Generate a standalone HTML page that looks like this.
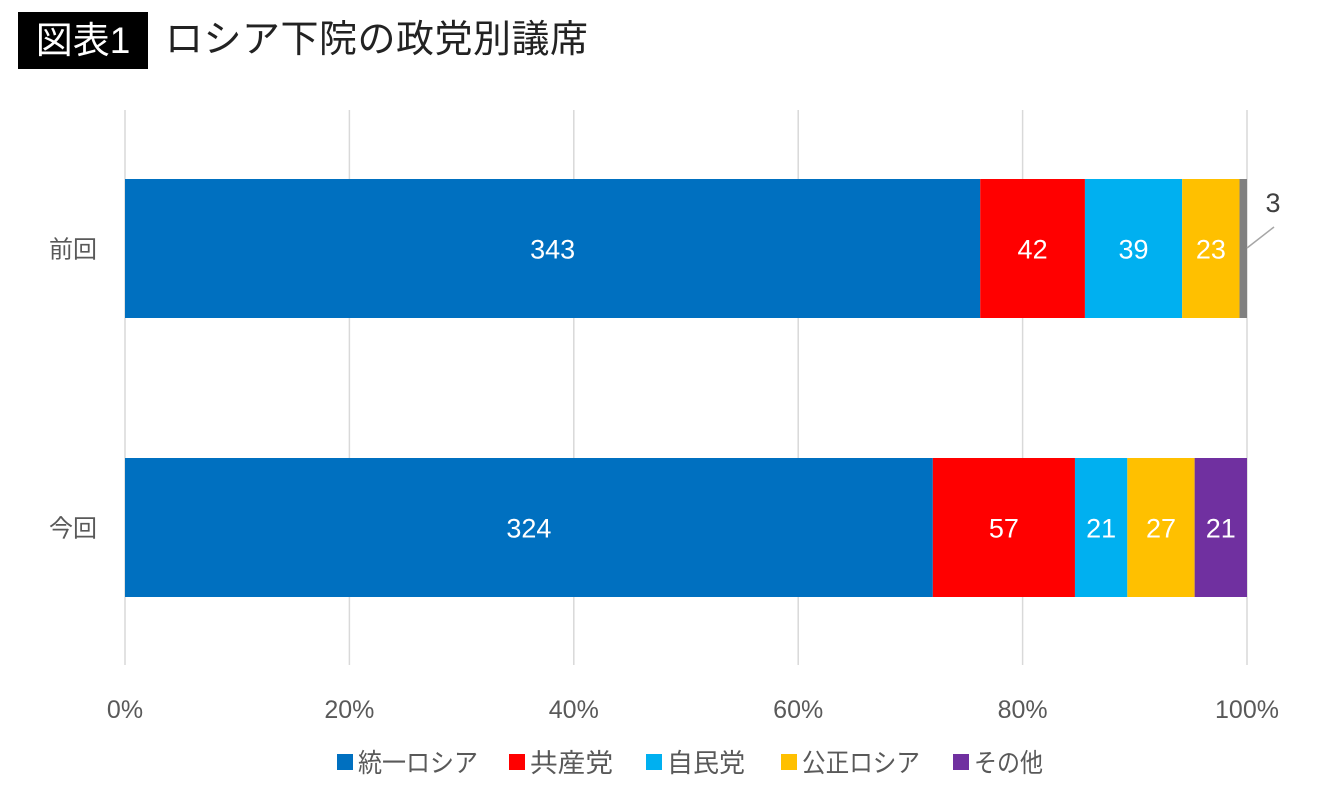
<!DOCTYPE html>
<html><head><meta charset="utf-8">
<style>
body{margin:0;background:#fff;width:1340px;height:790px;overflow:hidden;font-family:"Liberation Sans","Noto Sans CJK JP",sans-serif;}
#title-badge{position:absolute;left:18px;top:12px;width:130px;height:57px;background:#000;color:#fff;font-size:37px;line-height:57px;text-align:center;font-family:"Liberation Sans","Noto Sans CJK JP",sans-serif;}
#title-text{position:absolute;left:165px;top:12px;height:57px;line-height:57px;font-size:38px;letter-spacing:0.5px;color:#222;}
svg{position:absolute;left:0;top:0;}
</style></head><body>
<div id="title-badge">図表1</div>
<div id="title-text">ロシア下院の政党別議席</div>
<svg id="chart" width="1340" height="790"></svg>
<script>
const categories=["前回","今回"];
const parties=["統一ロシア","共産党","自民党","公正ロシア","その他","その他2"];
const prevValues=[343,42,39,23,0,3];
const currValues=[324,57,21,27,21,0];
const colors=["#0070c0","#ff0000","#00b0f0","#ffc000","#7030a0","#808080"];
const ticks=[0,20,40,60,80,100];
const series=[prevValues,currValues];
const NS="http://www.w3.org/2000/svg";
const svg=document.getElementById('chart');
const x0=125,x1=1247;
const xs=p=>x0+(x1-x0)*p/100;
const rowTop=[179,458],barH=139;
function mk(t,a,txt){const e=document.createElementNS(NS,t);for(const k in a)e.setAttribute(k,a[k]);if(txt!==undefined)e.textContent=txt;svg.appendChild(e);return e;}
ticks.forEach(t=>{
  const g=mk('line',{x1:xs(t),x2:xs(t),y1:110,y2:665,stroke:'#d9d9d9','stroke-width':1.5});
  
  
  const l=mk('text',{x:xs(t),y:718,'text-anchor':'middle','font-size':25,fill:'#595959'},t+'%');
  
  
});
categories.forEach((c,i)=>{
  const l=mk('text',{x:97,y:rowTop[i]+barH/2+9,'text-anchor':'end','font-size':24,fill:'#595959'},c);
  
  
  const vals=series[i];const tot=vals.reduce((a,b)=>a+b,0);
  let cum=0;
  vals.forEach((v,j)=>{
    if(!v)return;
    const a=xs(cum/tot*100),b=xs((cum+v)/tot*100);cum+=v;
    const r=mk('rect',{x:a,y:rowTop[i],width:b-a,height:barH,fill:colors[j]});
    
    
    if(b-a>20){
      const t=mk('text',{x:(a+b)/2,y:rowTop[i]+barH/2+10,'text-anchor':'middle','font-size':27,fill:'#fff'},v);
      
      
    }else{
      const ln=mk('line',{x1:b,y1:rowTop[i]+69,x2:b+27,y2:rowTop[i]+48,stroke:'#a6a6a6','stroke-width':1.5});
      
      
      const t=mk('text',{x:b+26,y:rowTop[i]+33,'text-anchor':'middle','font-size':27,fill:'#404040'},v);
      
      
    }
  });
});
const legX=[337,509,646,781,953];
const legW=[120,83,78,118,69];
for(let j=0;j<5;j++){
  const r=mk('rect',{x:legX[j],y:754,width:16,height:16,fill:colors[j]});
  
  
  const t=mk('text',{x:legX[j]+21,y:772,'font-size':26,fill:'#595959',textLength:legW[j],lengthAdjust:'spacingAndGlyphs'},parties[j]);
  
  
}
</script>
</body></html>
